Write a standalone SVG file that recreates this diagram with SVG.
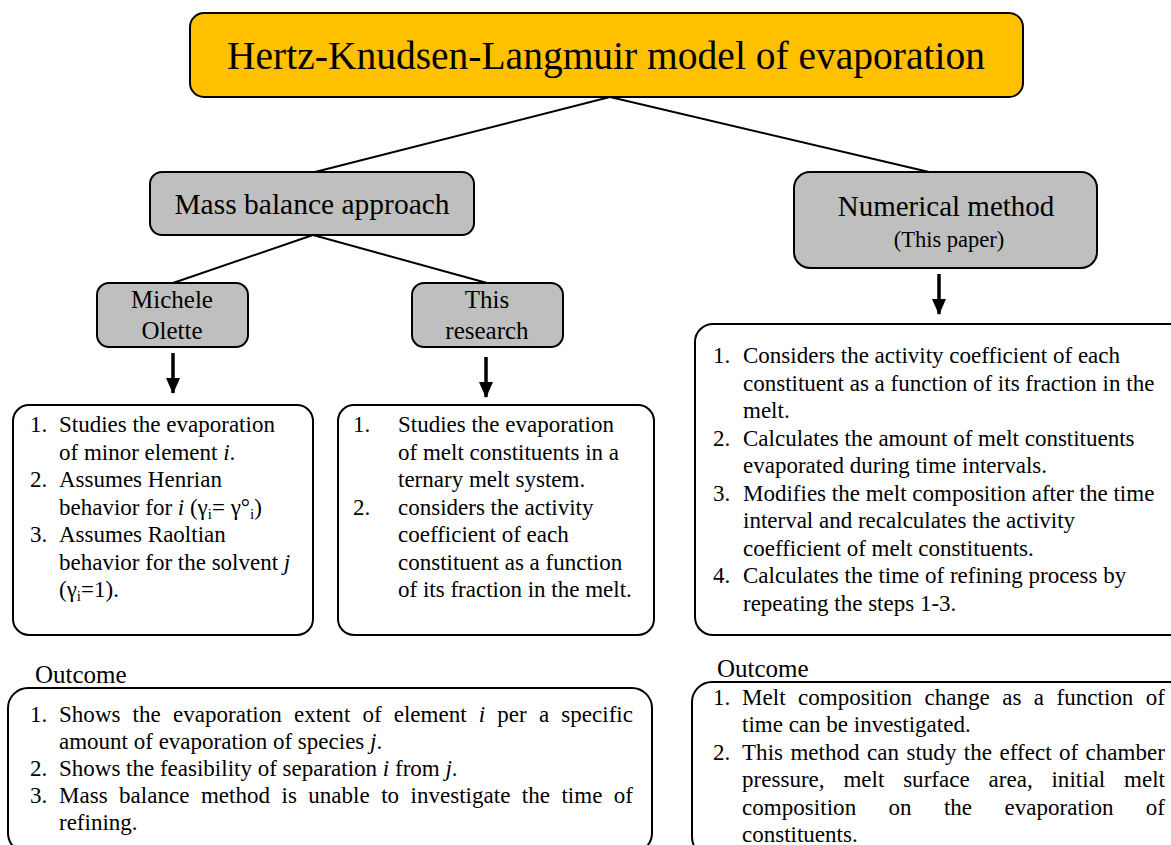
<svg xmlns="http://www.w3.org/2000/svg" width="1171" height="845" viewBox="0 0 1171 845">
<defs>
<marker id="ah" markerWidth="16" markerHeight="14" refX="15" refY="7" orient="auto" markerUnits="userSpaceOnUse">
<path d="M0,0 L16,7 L0,14 Z" fill="#000"/>
</marker>
<style>
text{font-family:"Liberation Serif","Times New Roman",serif;fill:#000}
.box{fill:#fff;stroke:#000;stroke-width:2}
.grey{fill:#BFBFBF;stroke:#000;stroke-width:2}
.title{fill:#FFC000;stroke:#000;stroke-width:2}
.body{font-size:23px}
.lbl{font-size:25px;text-anchor:middle}
.conn{stroke:#000;stroke-width:2;fill:none}
.arr{stroke:#000;stroke-width:3.5;fill:none}
.it{font-style:italic}
.sub{font-size:15px}
</style>
</defs>
<rect width="1171" height="845" fill="#fff"/>

<g id="connectors">
<line class="conn" x1="610" y1="97" x2="315" y2="172"/>
<line class="conn" x1="610" y1="97" x2="929" y2="172"/>
<line class="conn" x1="313" y1="235" x2="173" y2="283"/>
<line class="conn" x1="313" y1="235" x2="487" y2="283"/>
<line class="arr" x1="173" y1="353" x2="173" y2="393" marker-end="url(#ah)"/>
<line class="arr" x1="486" y1="357" x2="486" y2="397" marker-end="url(#ah)"/>
<line class="arr" x1="939" y1="274" x2="939" y2="314" marker-end="url(#ah)"/>
</g>

<g id="title">
<rect class="title" x="190" y="13" width="833" height="84" rx="14"/>
<text x="606" y="69" font-size="39.5" text-anchor="middle">Hertz-Knudsen-Langmuir model of evaporation</text>
</g>

<g id="mass-balance">
<rect class="grey" x="150" y="172" width="324" height="63" rx="12"/>
<text x="312" y="214" font-size="29.5" text-anchor="middle">Mass balance approach</text>
</g>

<g id="numerical">
<rect class="grey" x="794" y="172" width="303" height="96" rx="16"/>
<text x="946" y="216" font-size="29" text-anchor="middle">Numerical method</text>
<text x="949" y="247" font-size="22.5" text-anchor="middle">(This paper)</text>
</g>

<g id="michele">
<rect class="grey" x="97" y="283" width="151" height="64" rx="12"/>
<text class="lbl" x="172" y="308">Michele</text>
<text class="lbl" x="172" y="339">Olette</text>
</g>

<g id="this-research">
<rect class="grey" x="412" y="283" width="151" height="64" rx="12"/>
<text class="lbl" x="487" y="308">This</text>
<text class="lbl" x="487" y="339">research</text>
</g>

<g id="michele-list">
<rect class="box" x="13" y="405" width="300" height="230" rx="16"/>
<text class="body" x="30" y="432">1.</text>
<text class="body" x="59" y="432">Studies the evaporation</text>
<text class="body" x="59" y="459.5">of minor element <tspan class="it">i</tspan>.</text>
<text class="body" x="30" y="487">2.</text>
<text class="body" x="59" y="487">Assumes Henrian</text>
<text class="body" x="59" y="514.5">behavior for <tspan class="it">i</tspan> (γ<tspan class="sub" dy="4">i</tspan><tspan dy="-4">= γ°</tspan><tspan class="sub" dy="4">i</tspan><tspan dy="-4">)</tspan></text>
<text class="body" x="30" y="542">3.</text>
<text class="body" x="59" y="542">Assumes Raoltian</text>
<text class="body" x="59" y="569.5">behavior for the solvent <tspan class="it">j</tspan></text>
<text class="body" x="59" y="597">(γ<tspan class="sub" dy="4">i</tspan><tspan dy="-4">=1).</tspan></text>
</g>

<g id="research-list">
<rect class="box" x="338" y="405" width="316" height="230" rx="16"/>
<text class="body" x="353" y="432">1.</text>
<text class="body" x="398" y="432">Studies the evaporation</text>
<text class="body" x="398" y="459.5">of melt constituents in a</text>
<text class="body" x="398" y="487">ternary melt system.</text>
<text class="body" x="353" y="514.5">2.</text>
<text class="body" x="398" y="514.5">considers the activity</text>
<text class="body" x="398" y="542">coefficient of each</text>
<text class="body" x="398" y="569.5">constituent as a function</text>
<text class="body" x="398" y="597">of its fraction in the melt.</text>
</g>

<g id="numerical-list">
<rect class="box" x="695" y="324" width="495" height="311" rx="18"/>
<text class="body" x="713" y="363">1.</text>
<text class="body" x="743" y="363">Considers the activity coefficient of each</text>
<text class="body" x="743" y="390.5">constituent as a function of its fraction in the</text>
<text class="body" x="743" y="418">melt.</text>
<text class="body" x="713" y="445.5">2.</text>
<text class="body" x="743" y="445.5">Calculates the amount of melt constituents</text>
<text class="body" x="743" y="473">evaporated during time intervals.</text>
<text class="body" x="713" y="500.5">3.</text>
<text class="body" x="743" y="500.5">Modifies the melt composition after the time</text>
<text class="body" x="743" y="528">interval and recalculates the activity</text>
<text class="body" x="743" y="555.5">coefficient of melt constituents.</text>
<text class="body" x="713" y="583">4.</text>
<text class="body" x="743" y="583">Calculates the time of refining process by</text>
<text class="body" x="743" y="610.5">repeating the steps 1-3.</text>
</g>

<g id="outcome-left">
<text x="35" y="683" font-size="25">Outcome</text>
<rect class="box" x="8" y="688" width="644" height="165" rx="20"/>
<text class="body" x="30" y="722">1.</text>
<text class="body" x="59" y="722" word-spacing="6.3" textLength="574" lengthAdjust="spacing">Shows the evaporation extent of element <tspan class="it">i</tspan> per a specific</text>
<text class="body" x="59" y="749">amount of evaporation of species <tspan class="it">j</tspan>.</text>
<text class="body" x="30" y="776">2.</text>
<text class="body" x="59" y="776">Shows the feasibility of separation <tspan class="it">i</tspan> from <tspan class="it">j</tspan>.</text>
<text class="body" x="30" y="803">3.</text>
<text class="body" x="59" y="803" word-spacing="5.6" textLength="574" lengthAdjust="spacing">Mass balance method is unable to investigate the time of</text>
<text class="body" x="59" y="830">refining.</text>
</g>

<g id="outcome-right">
<text x="717" y="677" font-size="25">Outcome</text>
<rect class="box" x="692" y="682" width="500" height="175" rx="20"/>
<text class="body" x="713" y="705">1.</text>
<text class="body" x="742" y="705" word-spacing="6.6" textLength="423" lengthAdjust="spacing">Melt composition change as a function of</text>
<text class="body" x="742" y="732">time can be investigated.</text>
<text class="body" x="713" y="759.5">2.</text>
<text class="body" x="742" y="759.5" word-spacing="1.6" textLength="423" lengthAdjust="spacing">This method can study the effect of chamber</text>
<text class="body" x="742" y="787" word-spacing="13" textLength="423" lengthAdjust="spacing">pressure, melt surface area, initial melt</text>
<text class="body" x="742" y="814.5" word-spacing="26.5" textLength="423" lengthAdjust="spacing">composition on the evaporation of</text>
<text class="body" x="742" y="842">constituents.</text>
</g>
</svg>
